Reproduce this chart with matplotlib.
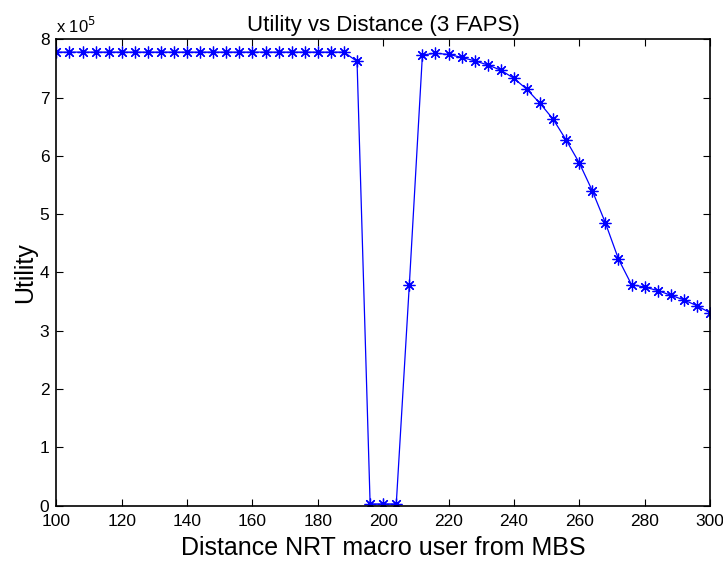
import matplotlib
matplotlib.use("Agg")
import matplotlib.pyplot as plt
from matplotlib.ticker import FuncFormatter, MultipleLocator

plt.rcParams['font.family'] = ['Liberation Sans', 'DejaVu Sans']

distance = list(range(100, 301, 4))
utility_e5 = [7.78] * 23 + [7.62, 0.03, 0.03, 0.03, 3.79,
              7.73, 7.76, 7.74, 7.69, 7.63, 7.56, 7.47, 7.33, 7.14, 6.90, 6.63,
              6.27, 5.88, 5.40, 4.85, 4.23, 3.79, 3.75, 3.69, 3.61, 3.53, 3.43, 3.31]
utility = [v * 1e5 for v in utility_e5]

fig = plt.figure(figsize=(7.23, 5.61), dpi=100)
ax = fig.add_axes([0.078, 0.0986, 0.904, 0.8314])
ax.plot(distance, utility, color='blue', linewidth=0.9, marker=(8, 2, 0),
        markersize=8.5, markeredgewidth=0.9)

ax.set_xlim(100, 300)
ax.set_ylim(0, 8e5)
ax.xaxis.set_major_locator(MultipleLocator(20))
ax.yaxis.set_major_locator(MultipleLocator(1e5))
ax.yaxis.set_major_formatter(FuncFormatter(lambda v, p: f"{v/1e5:g}"))
ax.tick_params(direction='in', top=True, right=True, labelsize=12.5, length=5, width=0.8)
ax.tick_params(axis='x', pad=6)
ax.tick_params(axis='y', pad=5)
for s in ax.spines.values():
    s.set_linewidth(1.2)

ax.set_title("Utility vs Distance (3 FAPS)", fontsize=16, pad=6)
ax.set_xlabel("Distance NRT macro user from MBS", fontsize=18, labelpad=5)
ax.set_ylabel("Utility", fontsize=18, labelpad=2)
ax.text(0.0, 1.008, r"x 10$^5$", transform=ax.transAxes, fontsize=12,
        ha='left', va='bottom')

fig.savefig("out.png", dpi=100)
